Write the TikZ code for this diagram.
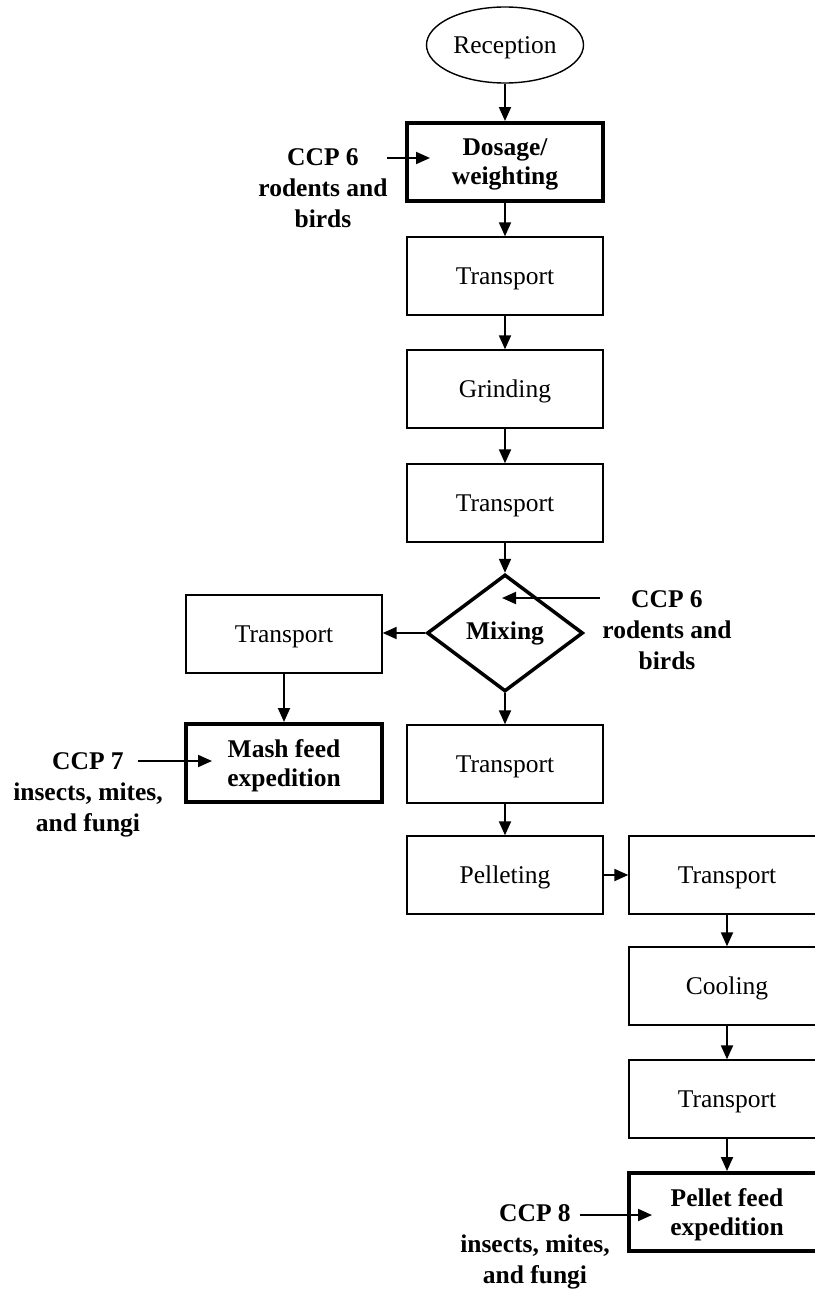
\documentclass[tikz,border=0pt]{standalone}
\usepackage{fontspec}
\setmainfont{Liberation Serif}
\usetikzlibrary{shapes.geometric,arrows.meta}

\begin{document}
\begin{tikzpicture}[x=1pt,y=-1pt,
  box/.style={draw,line width=1.4pt,rectangle,minimum width=196pt,minimum height=78pt,inner sep=0pt,text depth=0pt,align=center,font=\fontsize{25.5}{30}\selectfont},
  ccpbox/.style={box,line width=4pt,font=\fontsize{25.5}{29}\selectfont\bfseries},
  ccplabel/.style={align=center,inner sep=0pt,font=\fontsize{25.5}{31}\selectfont\bfseries},
  arr/.style={line width=2pt,-{Triangle[length=14pt,width=12pt]}}]
\useasboundingbox (0,0) rectangle (814,1290);
\node[ellipse,draw,line width=1.4pt,minimum width=157pt,minimum height=76pt,inner sep=0pt,text depth=0pt,font=\fontsize{25.5}{30}\selectfont] (rec) at (505,45) {Reception};
\node[ccpbox] (dose)   at (505,162) {Dosage/\\weighting};
\node[box]    (tr1)    at (505,276) {Transport};
\node[box]    (grind)  at (505,389) {Grinding};
\node[box]    (tr2)    at (505,503) {Transport};
\node[diamond,draw,line width=3.5pt,minimum width=156pt,minimum height=117pt,inner sep=0pt,font=\fontsize{25.5}{30}\selectfont\bfseries] (mix) at (505,633) {Mixing};
\node[box]    (trl)    at (284,634) {Transport};
\node[ccpbox] (mash)   at (284,763) {Mash feed\\expedition};
\node[box]    (tr3)    at (505,764) {Transport};
\node[box]    (pel)    at (505,875) {Pelleting};
\node[box]    (tr4)    at (727,875) {Transport};
\node[box]    (cool)   at (727,986) {Cooling};
\node[box]    (tr5)    at (727,1099) {Transport};
\node[ccpbox] (pellet) at (727,1212) {Pellet feed\\expedition};

\node[ccplabel] (lab1) at (323,188)  {CCP 6\\rodents and\\birds};
\node[ccplabel] (lab2) at (667,630)  {CCP 6\\rodents and\\birds};
\node[ccplabel] (lab3) at (88,795)   {CCP 7\\insects, mites,\\and fungi};
\node[ccplabel] (lab4) at (535,1247) {CCP 8\\insects, mites,\\and fungi};

\coordinate (c1s) at (387,158);  \coordinate (c1e) at (430,158);
\coordinate (c2s) at (600,598);  \coordinate (c2e) at (502,598);
\coordinate (c3s) at (138,761);  \coordinate (c3e) at (212,761);
\coordinate (c4s) at (580,1215); \coordinate (c4e) at (652,1215);

\draw[arr] (rec) -- (dose);
\draw[arr] (dose) -- (tr1);
\draw[arr] (tr1) -- (grind);
\draw[arr] (grind) -- (tr2);
\draw[arr] (tr2) -- (mix);
\draw[arr] (mix.west) -- (mix.west -| trl.east);
\draw[arr] (trl) -- (mash);
\draw[arr] (mix) -- (tr3);
\draw[arr] (tr3) -- (pel);
\draw[arr] (pel) -- (tr4);
\draw[arr] (tr4) -- (cool);
\draw[arr] (cool) -- (tr5);
\draw[arr] (tr5) -- (pellet);
\draw[arr] (c1s) -- (c1e);
\draw[arr] (c2s) -- (c2e);
\draw[arr] (c3s) -- (c3e);
\draw[arr] (c4s) -- (c4e);
\end{tikzpicture}
\end{document}
